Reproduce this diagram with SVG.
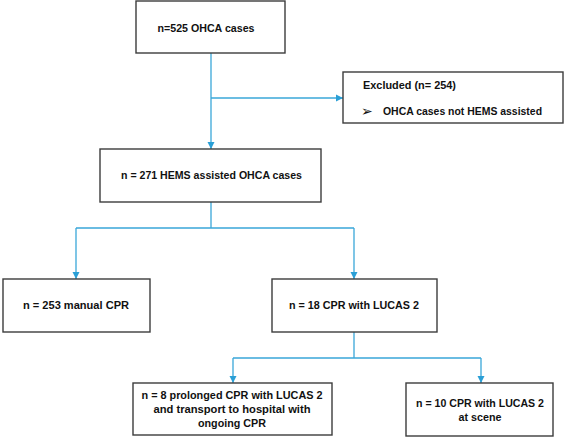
<svg xmlns="http://www.w3.org/2000/svg" width="567" height="438" viewBox="0 0 567 438">
<style>
.box{fill:#fff;stroke:#3c3c3c;stroke-width:1.4}
.t{font-family:"Liberation Sans",Arial,sans-serif;font-weight:bold;font-size:11.5px;fill:#111;text-anchor:middle}
.tl{font-family:"Liberation Sans",Arial,sans-serif;font-weight:bold;font-size:11.5px;fill:#111}
.c{fill:none;stroke:#3aa7d9;stroke-width:1.3}
</style>
<defs>
<marker id="ah" markerWidth="8" markerHeight="8" refX="7" refY="4" orient="auto" markerUnits="userSpaceOnUse">
<path d="M0,0.5 L7,4 L0,7.5 Z" fill="#2a9fd6"/>
</marker>
</defs>
<rect width="567" height="438" fill="#fff"/>
<g id="connectors">
<path class="c" d="M211,53 V149" marker-end="url(#ah)"/>
<path class="c" d="M211,98 H343" marker-end="url(#ah)"/>
<path class="c" d="M211,202 V228 M76,228 H354"/>
<path class="c" d="M76,228 V279" marker-end="url(#ah)"/>
<path class="c" d="M354,228 V279" marker-end="url(#ah)"/>
<path class="c" d="M354,332 V358 M233,358 H481"/>
<path class="c" d="M233,358 V383" marker-end="url(#ah)"/>
<path class="c" d="M481,358 V383" marker-end="url(#ah)"/>
</g>
<g id="n525">
<rect class="box" x="136" y="1" width="149" height="52"/>
<text class="t" x="206" y="32" textLength="97" lengthAdjust="spacingAndGlyphs">n=525 OHCA cases</text>
</g>
<g id="excluded">
<rect class="box" x="343" y="72" width="220" height="51"/>
<text class="tl" x="363" y="89" textLength="93" lengthAdjust="spacingAndGlyphs">Excluded (n= 254)</text>
<text x="361" y="116" font-family="DejaVu Sans,sans-serif" font-size="14" fill="#111">➢</text>
<text class="tl" x="383" y="115" textLength="159" lengthAdjust="spacingAndGlyphs">OHCA cases not HEMS assisted</text>
</g>
<g id="n271">
<rect class="box" x="100" y="149" width="221" height="53"/>
<text class="t" x="211.5" y="179" textLength="181" lengthAdjust="spacingAndGlyphs">n = 271 HEMS assisted OHCA cases</text>
</g>
<g id="manual">
<rect class="box" x="3" y="279" width="147" height="53"/>
<text class="t" x="76" y="309" textLength="106" lengthAdjust="spacingAndGlyphs">n = 253 manual CPR</text>
</g>
<g id="lucas">
<rect class="box" x="272" y="279" width="165" height="53"/>
<text class="t" x="354" y="309" textLength="130" lengthAdjust="spacingAndGlyphs">n = 18 CPR with LUCAS 2</text>
</g>
<g id="prolonged">
<rect class="box" x="133" y="383" width="199" height="52"/>
<text class="t" x="232" y="399" textLength="181" lengthAdjust="spacingAndGlyphs">n = 8 prolonged CPR with LUCAS 2</text>
<text class="t" x="232" y="413" textLength="157" lengthAdjust="spacingAndGlyphs">and transport to hospital with</text>
<text class="t" x="232" y="427" textLength="68" lengthAdjust="spacingAndGlyphs">ongoing CPR</text>
</g>
<g id="scene">
<rect class="box" x="406" y="383" width="147" height="53"/>
<text class="t" x="480" y="407" textLength="128" lengthAdjust="spacingAndGlyphs">n = 10 CPR with LUCAS 2</text>
<text class="t" x="480" y="421" textLength="43" lengthAdjust="spacingAndGlyphs">at scene</text>
</g>
</svg>
